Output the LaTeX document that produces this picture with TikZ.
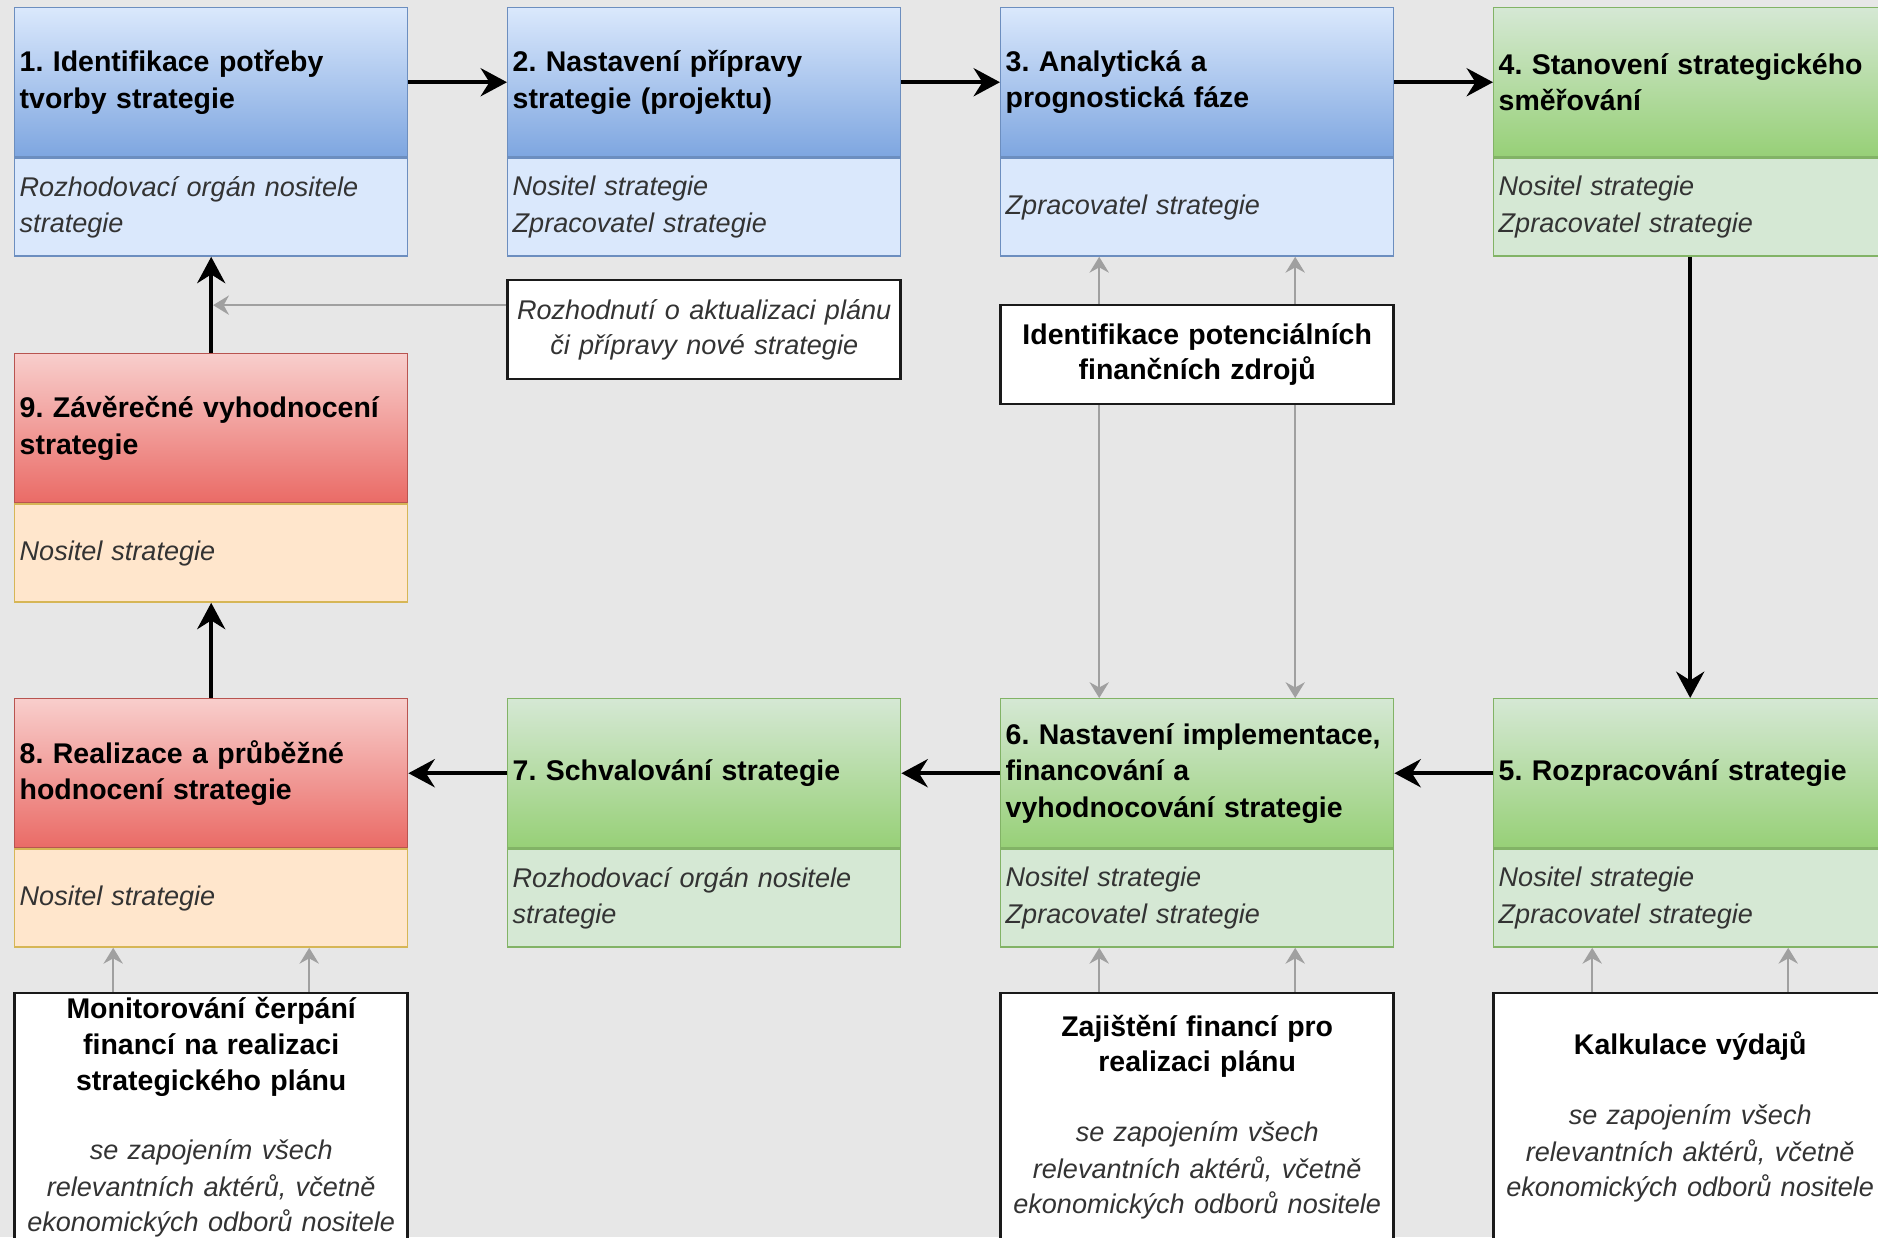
\documentclass[tikz,border=0pt]{standalone}
\usepackage{fontspec}
\setmainfont{Liberation Sans}
\usepackage{xcolor}
\usetikzlibrary{arrows.meta,positioning}
\frenchspacing
\newcommand{\stepfont}{\bfseries\fontsize{8.1}{10.4}\selectfont}
\newcommand{\rolefont}{\itshape\fontsize{7.7}{10.4}\selectfont}
\definecolor{paper}{HTML}{E7E7E7}
\definecolor{bluetop}{HTML}{DAE8FC}
\definecolor{bluebot}{HTML}{7EA6E0}
\definecolor{bluedraw}{HTML}{6C8EBF}
\definecolor{greentop}{HTML}{D5E8D4}
\definecolor{greenbot}{HTML}{97D077}
\definecolor{greendraw}{HTML}{82B366}
\definecolor{redtop}{HTML}{F8CECC}
\definecolor{redbot}{HTML}{EA6B66}
\definecolor{reddraw}{HTML}{B85450}
\definecolor{orangefill}{HTML}{FFE6CC}
\definecolor{orangedraw}{HTML}{D6B656}
\definecolor{roletext}{HTML}{333333}
\definecolor{notedraw}{HTML}{1A1A1A}
\definecolor{linkgray}{HTML}{A0A0A0}

\begin{document}
\begin{tikzpicture}[>=Stealth,x=1cm,y=1cm,
  head/.style={rectangle,draw,line width=0.4pt,anchor=north west,minimum width=3.93cm,minimum height=1.49cm,text width=3.83cm,inner xsep=0.05cm,inner ysep=0pt,align=left,font=\stepfont},
  role/.style={rectangle,draw,line width=0.4pt,below=0pt of #1,minimum width=3.93cm,minimum height=0.98cm,text width=3.83cm,inner xsep=0.05cm,inner ysep=0pt,align=left,font=\rolefont,text=roletext},
  bluehead/.style={head,top color=bluetop,bottom color=bluebot,draw=bluedraw},
  bluerole/.style={role=#1,fill=bluetop,draw=bluedraw},
  greenhead/.style={head,top color=greentop,bottom color=greenbot,draw=greendraw},
  greenrole/.style={role=#1,fill=greentop,draw=greendraw},
  redhead/.style={head,top color=redtop,bottom color=redbot,draw=reddraw},
  redrole/.style={role=#1,fill=orangefill,draw=orangedraw},
  note/.style={rectangle,draw=notedraw,line width=0.75pt,fill=white,minimum width=3.93cm,text width=3.83cm,inner xsep=0.05cm,inner ysep=0pt,align=center,font=\fontsize{8}{10.1}\selectfont},
  flow/.style={->,line width=1.1pt,>={Stealth[length=7.5pt,width=8pt,inset=2.5pt]}},
  link/.style={->,draw=linkgray,line width=0.5pt,>={Stealth[length=4.5pt,width=5.5pt,inset=1.5pt]}}]
\fill[paper] (0,0) rectangle (18.78,-12.37);
\useasboundingbox (0,0) rectangle (18.78,-12.37);

% first row
\node[bluehead] (t1) at (0.14,-0.07) {1. Identifikace potřeby\\tvorby strategie};
\node[bluerole=t1] (s1) {Rozhodovací orgán nositele\\strategie};
\node[bluehead] (t2) at (5.07,-0.07) {2. Nastavení přípravy\\strategie (projektu)};
\node[bluerole=t2] (s2) {Nositel strategie\\Zpracovatel strategie};
\node[bluehead] (t3) at (10.00,-0.07) {3. Analytická a\\prognostická fáze};
\node[bluerole=t3] (s3) {Zpracovatel strategie};
\node[greenhead] (t4) at (14.93,-0.07) {4. Stanovení strategického\\směřování};
\node[greenrole=t4] (s4) {Nositel strategie\\Zpracovatel strategie};

% evaluation
\node[redhead] (t9) at (0.14,-3.53) {9. Závěrečné vyhodnocení\\strategie};
\node[redrole=t9] (s9) {Nositel strategie};

% second row
\node[redhead] (t8) at (0.14,-6.98) {8. Realizace a průběžné\\hodnocení strategie};
\node[redrole=t8] (s8) {Nositel strategie};
\node[greenhead] (t7) at (5.07,-6.98) {7. Schvalování strategie};
\node[greenrole=t7] (s7) {Rozhodovací orgán nositele\\strategie};
\node[greenhead] (t6) at (10.00,-6.98) {6. Nastavení implementace,\\financování a\\vyhodnocování strategie};
\node[greenrole=t6] (s6) {Nositel strategie\\Zpracovatel strategie};
\node[greenhead] (t5) at (14.93,-6.98) {5. Rozpracování strategie};
\node[greenrole=t5] (s5) {Nositel strategie\\Zpracovatel strategie};

% side notes
\node[note,minimum height=0.99cm,below=0.22cm of s2] (upd) {{\rolefont\color{roletext}Rozhodnutí o aktualizaci plánu\\či přípravy nové strategie}};
\node[note,minimum height=0.99cm,below=0.47cm of s3] (fin) {{\stepfont Identifikace potenciálních\\finančních zdrojů}};
\node[note,minimum height=2.48cm,below=0.44cm of s8] (mon) {{\stepfont Monitorování čerpání\\financí na realizaci\\strategického plánu}\\[9.4pt]{\rolefont\color{roletext}se zapojením všech\\relevantních aktérů, včetně\\ekonomických odborů nositele}};
\node[note,minimum height=2.48cm,below=0.44cm of s6] (fund) {{\stepfont Zajištění financí pro\\realizaci plánu}\\[9.4pt]{\rolefont\color{roletext}se zapojením všech\\relevantních aktérů, včetně\\ekonomických odborů nositele}};
\node[note,minimum height=2.48cm,below=0.44cm of s5] (calc) {{\stepfont Kalkulace výdajů}\\[9.4pt]{\rolefont\color{roletext}se zapojením všech\\relevantních aktérů, včetně\\ekonomických odborů nositele}};

% main cycle
\draw[flow] (t1) -- (t2);
\draw[flow] (t2) -- (t3);
\draw[flow] (t3) -- (t4);
\draw[flow] (s4) -- (t5);
\draw[flow] (t5) -- (t6);
\draw[flow] (t6) -- (t7);
\draw[flow] (t7) -- (t8);
\draw[flow] (t8) -- (s9);
\draw[flow] (t9) -- (s1);

% grey links
\coordinate (updin) at ([yshift=0.245cm]upd.west);
\draw[link,shorten >=0.55pt] (updin) -- (updin -| t9.north);
\foreach \dx in {-0.98,0.98} {
  \draw[link] ([xshift=\dx cm]fin.north) -- ([xshift=\dx cm]s3.south);
  \draw[link] ([xshift=\dx cm]fin.south) -- ([xshift=\dx cm]t6.north);
  \draw[link] ([xshift=\dx cm]mon.north) -- ([xshift=\dx cm]s8.south);
  \draw[link] ([xshift=\dx cm]fund.north) -- ([xshift=\dx cm]s6.south);
  \draw[link] ([xshift=\dx cm]calc.north) -- ([xshift=\dx cm]s5.south);
}
\end{tikzpicture}
\end{document}
